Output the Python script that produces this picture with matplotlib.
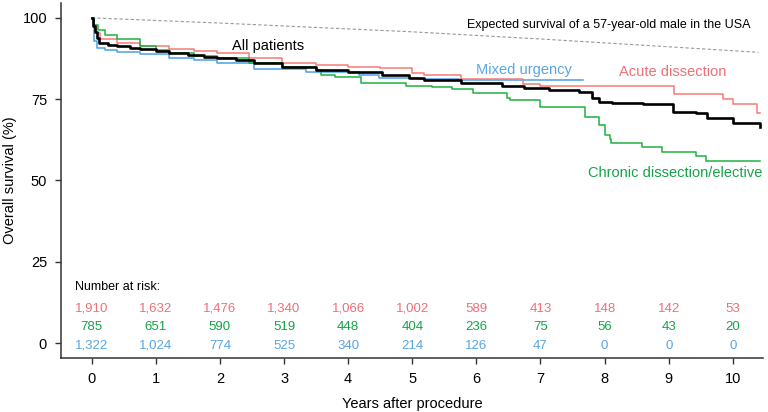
import matplotlib
matplotlib.use("Agg")
import matplotlib.pyplot as plt

plt.rcParams['font.family'] = ['Liberation Sans', 'DejaVu Sans']

# Expected survival (general population)
exp_t = [0, 1, 2, 3, 4, 5, 6, 7, 8, 9, 10, 10.4]
exp_s = [100, 99.2, 98.4, 97.5, 96.6, 95.7, 94.6, 93.5, 92.3, 91.1, 89.9, 89.4]

# All patients
all_t = [0, 0.02, 0.05, 0.08, 0.11, 0.25, 0.4, 0.6, 0.76, 1.0, 1.2, 1.5, 1.75, 1.96, 2.25, 2.53,
         2.97, 3.5, 4.0, 4.53, 4.95, 5.19, 5.76, 6.4, 6.75, 7.14, 7.6, 7.8, 7.92, 8.12, 8.6,
         9.07, 9.43, 9.6, 10.0, 10.42]
all_s = [100, 97.5, 95.5, 93.8, 92.2, 91.7, 91.2, 90.8, 90.4, 89.8, 89.1, 88.6, 88.1, 87.6, 86.9, 86.1,
         85.0, 84.0, 83.2, 82.5, 81.4, 80.9, 79.9, 79.1, 78.3, 77.8, 77.1, 75.5, 74.1, 73.7, 73.4,
         71.2, 70.7, 69.3, 67.8, 66.4]

# Acute dissection
acute_t = [0, 0.03, 0.06, 0.13, 0.4, 0.76, 1.2, 1.6, 1.96, 2.45, 2.97, 3.5, 4.0, 4.5, 5.0, 5.19,
           5.76, 6.72, 7.0, 9.09, 9.85, 10.0, 10.38, 10.42]
acute_s = [100, 97.8, 95.3, 93.4, 92.2, 91.2, 90.4, 89.7, 89.1, 87.6, 86.2, 85.5, 85.0, 84.5, 83.0, 82.5,
           81.1, 79.6, 79.1, 76.5, 75.0, 73.4, 70.7, 70.7]

# Chronic dissection / elective
chronic_t = [0, 0.03, 0.1, 0.2, 0.39, 0.76, 1.0, 1.2, 1.6, 1.96, 2.45, 2.97, 3.5, 3.57, 3.8, 4.2,
             4.9, 5.3, 5.62, 5.94, 6.47, 6.52, 7.0, 7.69, 7.92, 8.0, 8.08, 8.1, 8.58, 8.9,
             9.43, 9.58, 10.42]
chronic_s = [100, 97.8, 96.2, 94.8, 93.4, 91.2, 90.0, 89.1, 88.4, 87.6, 86.2, 85.0, 84.0, 82.5, 81.7, 80.1,
             79.1, 78.6, 78.0, 77.0, 75.5, 74.8, 72.7, 69.6, 67.1, 64.0, 62.7, 61.6, 60.2, 58.9,
             57.5, 56.1, 56.1]

# Mixed urgency
mixed_t = [0, 0.03, 0.08, 0.2, 0.4, 0.76, 1.2, 1.6, 1.96, 2.53, 3.34, 4.17, 4.48, 5.1, 5.73, 7.66]
mixed_s = [100, 93.0, 90.7, 90.2, 89.6, 88.8, 87.6, 86.9, 86.1, 84.3, 83.3, 82.5, 81.6, 81.1, 80.9, 80.9]

# Number at risk
years = [0, 1, 2, 3, 4, 5, 6, 7, 8, 9, 10]
risk_acute = [1910, 1632, 1476, 1340, 1066, 1002, 589, 413, 148, 142, 53]
risk_chronic = [785, 651, 590, 519, 448, 404, 236, 75, 56, 43, 20]
risk_mixed = [1322, 1024, 774, 525, 340, 214, 126, 47, 0, 0, 0]

RED = '#F47A78'
GREEN = '#1DB13E'
BLUE = '#4C9FE8'
RED_T = '#EE6F78'
GREEN_T = '#15A348'
BLUE_T = '#5AA5E2'

fig = plt.figure(figsize=(7.68, 4.12), dpi=100)
ax = fig.add_axes([0.0794, 0.131, 0.914, 0.862])

ax.plot(exp_t, exp_s, color='#999999', lw=0.8, ls=(0, (3, 2)))
ax.plot(mixed_t, mixed_s, drawstyle='steps-post', color=BLUE, lw=1.1)
ax.plot(acute_t, acute_s, drawstyle='steps-post', color=RED, lw=1.1)
ax.plot(chronic_t, chronic_s, drawstyle='steps-post', color=GREEN, lw=1.1)
ax.plot(all_t, all_s, drawstyle='steps-post', color='black', lw=1.9)

ax.text(10.27, 97.8, 'Expected survival of a 57-year-old male in the USA', ha='right', va='center',
        fontsize=9, color='black')
ax.text(2.75, 91.4, 'All patients', ha='center', va='center', fontsize=10.5, color='black')
ax.text(6.74, 84.0, 'Mixed urgency', ha='center', va='center', fontsize=10.5, color=BLUE_T)
ax.text(9.07, 83.3, 'Acute dissection', ha='center', va='center', fontsize=10.5, color=RED_T)
ax.text(9.1, 52.2, 'Chronic dissection/elective', ha='center', va='center', fontsize=10.5, color=GREEN_T)

ax.text(-0.26, 17.3, 'Number at risk:', ha='left', va='center', fontsize=9, color='black')
for yv, vals, col in [(10.5, risk_acute, RED_T), (4.8, risk_chronic, GREEN_T), (-0.9, risk_mixed, BLUE_T)]:
    for x, v in zip(years, vals):
        ax.text(x, yv, f'{v:,}', ha='center', va='center', fontsize=9.5, color=col)

ax.set_xlim(-0.48, 10.47)
ax.set_ylim(-4.6, 104.6)
ax.set_xticks(years)
ax.set_yticks([0, 25, 50, 75, 100])
ax.tick_params(axis='both', labelsize=10.5, length=4, width=1, color='#333333', pad=6)
for s in ['top', 'right']:
    ax.spines[s].set_visible(False)
for s in ['left', 'bottom']:
    ax.spines[s].set_linewidth(1.1)
    ax.spines[s].set_color('#333333')

ax.set_xlabel('Years after procedure', fontsize=10.5, labelpad=8)
ax.set_ylabel('Overall survival (%)', fontsize=10.5)
ax.yaxis.set_label_coords(-0.062, 0.5)

fig.savefig('out.png', dpi=100)
